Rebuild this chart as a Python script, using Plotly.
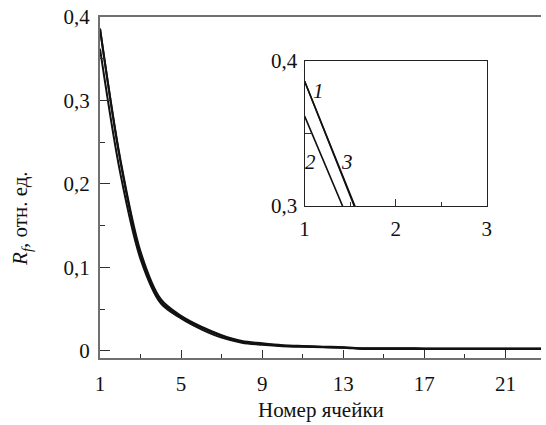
import plotly.graph_objects as go

# Cell numbers and relative R_f values for the three runs
cells = list(range(1, 24))
rf_1 = [0.386, 0.228, 0.115, 0.059, 0.041, 0.028, 0.018, 0.011, 0.0085, 0.0065,
        0.0055, 0.0048, 0.0042, 0.0030, 0.0029, 0.0029, 0.0028, 0.0028, 0.0028,
        0.0028, 0.0028, 0.0028, 0.0028]
rf_2 = [0.362, 0.213, 0.110, 0.057, 0.039, 0.026, 0.016, 0.010, 0.0075, 0.0058,
        0.0050, 0.0044, 0.0040, 0.0025, 0.0024, 0.0024, 0.0024, 0.0024, 0.0024,
        0.0024, 0.0024, 0.0024, 0.0024]
rf_3 = [0.386, 0.230, 0.119, 0.062, 0.042, 0.029, 0.019, 0.012, 0.0092, 0.0070,
        0.0060, 0.0052, 0.0046, 0.0033, 0.0032, 0.0032, 0.0031, 0.0031, 0.0031,
        0.0031, 0.0031, 0.0031, 0.0031]

main_xticks = [1, 5, 9, 13, 17, 21]
main_yticks = [0, 0.1, 0.2, 0.3, 0.4]
main_ytext = ["0", "0,1", "0,2", "0,3", "0,4"]
inset_xticks = [1, 2, 3]
inset_yticks = [0.3, 0.4]
inset_ytext = ["0,3", "0,4"]
curve_labels = ["1", "2", "3"]
curve_label_pos = [(1.15, 0.379), (1.07, 0.330), (1.47, 0.330)]

FONT = "Liberation Serif, Times New Roman, serif"
AXIS_GREY = "#707070"
TICK_DARK = "#303030"
FS = 21

fig = go.Figure()

for ys in (rf_1, rf_2, rf_3):
    fig.add_trace(go.Scatter(x=cells, y=ys, mode="lines",
                             line=dict(color="#111111", width=2, shape="spline", smoothing=0.9),
                             xaxis="x", yaxis="y", showlegend=False, hoverinfo="skip"))

# Zoomed view of the first cells
for ys in (rf_1, rf_2, rf_3):
    fig.add_trace(go.Scatter(x=cells[:4], y=ys[:4], mode="lines",
                             line=dict(color="#111111", width=1.6),
                             xaxis="x3", yaxis="y3", showlegend=False, hoverinfo="skip"))

tickfont = dict(family=FONT, size=FS, color="#111111")

fig.update_layout(
    width=546, height=425,
    margin=dict(l=100, r=0, t=17, b=67),
    paper_bgcolor="white", plot_bgcolor="white",
    font=dict(family=FONT, size=FS, color="#111111"),
    xaxis=dict(
        domain=[0, 1], range=[1, 22.756], showgrid=False, zeroline=False,
        showline=True, linecolor=AXIS_GREY, linewidth=2, mirror=True,
        ticks="inside", ticklen=8, tickwidth=1, tickcolor=TICK_DARK,
        tickvals=main_xticks, ticktext=[str(v) for v in main_xticks],
        tickfont=tickfont, ticklabelstandoff=6,
        minor=dict(tick0=1, dtick=2, ticks="inside", ticklen=4, tickwidth=1, tickcolor=TICK_DARK),
    ),
    yaxis=dict(
        domain=[0, 1], range=[-0.0084, 0.4], showgrid=False, zeroline=False,
        showline=True, linecolor=AXIS_GREY, linewidth=2, mirror=False,
        ticks="inside", ticklen=10, tickwidth=1, tickcolor=TICK_DARK,
        tickvals=main_yticks, ticktext=main_ytext,
        tickfont=tickfont, ticklabelstandoff=4,
        minor=dict(tick0=0, dtick=0.05, ticks="inside", ticklen=5, tickwidth=1, tickcolor=TICK_DARK),
    ),
    yaxis2=dict(
        overlaying="y", side="right", anchor="x", range=[-0.0084, 0.4],
        showgrid=False, zeroline=False, showline=False, showticklabels=False,
        ticks="inside", ticklen=5, tickwidth=1, tickcolor=TICK_DARK,
        tickvals=main_yticks,
    ),
    xaxis3=dict(
        domain=[0.464, 0.877], anchor="y3", range=[1, 3], showgrid=False, zeroline=False,
        showline=True, linecolor="#222222", linewidth=1.4, mirror=True,
        ticks="inside", ticklen=7, tickwidth=1, tickcolor=TICK_DARK,
        tickvals=inset_xticks, ticktext=[str(v) for v in inset_xticks],
        tickfont=tickfont, ticklabelstandoff=4,
        minor=dict(tick0=1, dtick=0.5, ticks="inside", ticklen=4, tickwidth=1, tickcolor=TICK_DARK),
    ),
    yaxis3=dict(
        domain=[0.446, 0.871], anchor="x3", range=[0.3, 0.4], showgrid=False, zeroline=False,
        showline=True, linecolor="#222222", linewidth=1.4, mirror=True,
        ticks="inside", ticklen=7, tickwidth=1, tickcolor=TICK_DARK,
        tickvals=inset_yticks, ticktext=inset_ytext,
        tickfont=tickfont, ticklabelstandoff=2,
        minor=dict(tick0=0.3, dtick=0.05, ticks="inside", ticklen=7, tickwidth=1, tickcolor=TICK_DARK),
    ),
)

# Curve numbers in the inset
for txt, (lx, ly) in zip(curve_labels, curve_label_pos):
    fig.add_annotation(x=lx, y=ly, xref="x3", yref="y3", text=f"<i>{txt}</i>",
                       showarrow=False, xanchor="center", yanchor="middle",
                       font=dict(family=FONT, size=FS, color="#111111"))

# Axis titles
fig.add_annotation(x=-0.179, y=0.408, xref="paper", yref="paper",
                   text="<i>R</i><sub><i>f</i></sub>, отн. ед.", textangle=-90,
                   xanchor="center", yanchor="middle", showarrow=False,
                   font=dict(family=FONT, size=FS, color="#111111"))
fig.add_annotation(x=0.5, y=-0.152, xref="paper", yref="paper",
                   text="Номер ячейки", showarrow=False,
                   xanchor="center", yanchor="middle",
                   font=dict(family=FONT, size=FS, color="#111111"))

fig.write_html("out.html")
